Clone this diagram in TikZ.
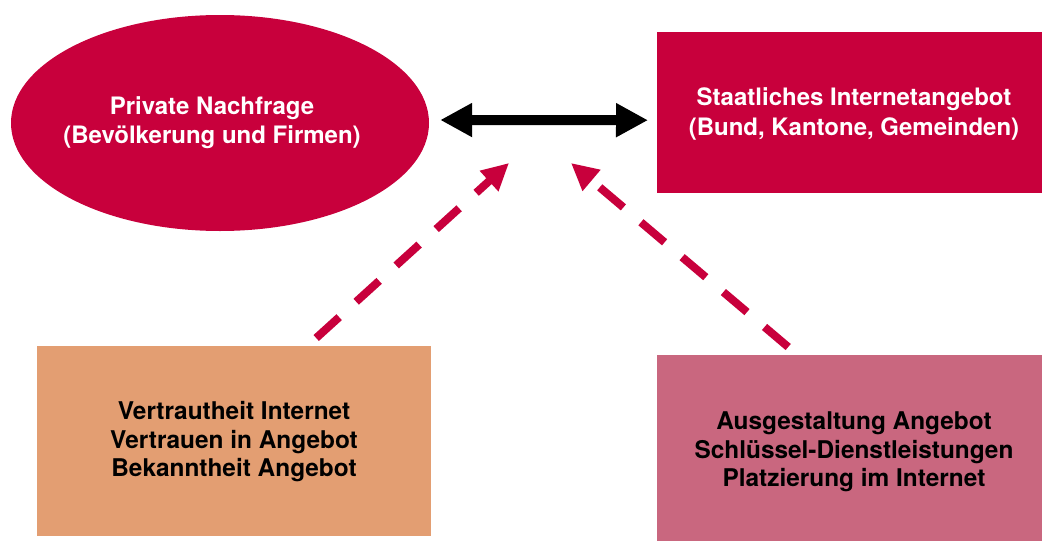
\documentclass[tikz,border=0pt]{standalone}
\usepackage{fontspec}
\setmainfont{TeX Gyre Heros}
\usetikzlibrary{arrows.meta,shapes.geometric}
\definecolor{dkred}{HTML}{C8003C}
\definecolor{ochre}{HTML}{E39E72}
\definecolor{rose}{HTML}{C9677F}
\begin{document}
\begin{tikzpicture}[x=1pt,y=-1pt,
  lblw/.style={font=\fontsize{24}{29.5}\selectfont\bfseries, align=center, inner sep=0pt, text=white},
  lblb/.style={font=\fontsize{24.4}{28.5}\selectfont\bfseries, align=center, inner sep=0pt, text=black},
  boxfill/.style={rectangle, inner sep=0pt, anchor=north west, draw=none},
  dasharrow/.style={draw=dkred, line width=8pt, dash pattern=on 31pt off 23pt,
    -{Triangle[length=27pt,width=26pt,fill=dkred]}},
  dblarrow/.style={draw=black, line width=10pt,
    {Triangle[length=32pt,width=32pt]}-{Triangle[length=32pt,width=32pt]}}]
\useasboundingbox (0,0) rectangle (1042,541);
\fill[white] (0,0) rectangle (1042,541);
% shapes
\node[ellipse, fill=dkred, minimum width=418pt, minimum height=216pt, inner sep=0pt] (ell) at (220,123) {};
\node[boxfill, fill=dkred, minimum width=385pt, minimum height=161pt] (staat) at (657,32) {};
\node[boxfill, fill=ochre, minimum width=394pt, minimum height=190pt] (vert) at (37,346) {};
\node[boxfill, fill=rose, minimum width=385pt, minimum height=186pt] (ausg) at (657,355) {};
% texts
\node[lblw] (ellT) at (212,122.5) {Private Nachfrage\\(Bevölkerung und Firmen)};
\node[lblw] (staatT) at (854,114) {Staatliches Internetangebot\\(Bund, Kantone, Gemeinden)};
\node[lblb] (vertT) at (234,442) {Vertrautheit Internet\\Vertrauen in Angebot\\Bekanntheit Angebot};
\node[lblb] (ausgT) at (854,452) {Ausgestaltung Angebot\\Schlüssel-Dienstleistungen\\Platzierung im Internet};
% connectors
\draw[dblarrow] ([xshift=11pt,yshift=3pt]ell.east) -- ([xshift=-9pt,yshift=-7.5pt]staat.west);
\coordinate (tipL) at (509,163);
\coordinate (tipR) at (571,163);
\draw[dasharrow] ([xshift=82pt,yshift=8pt]vert.north) -- (tipL);
\draw[dasharrow] ([xshift=-61.5pt,yshift=8pt]ausg.north) -- (tipR);
\end{tikzpicture}
\end{document}
